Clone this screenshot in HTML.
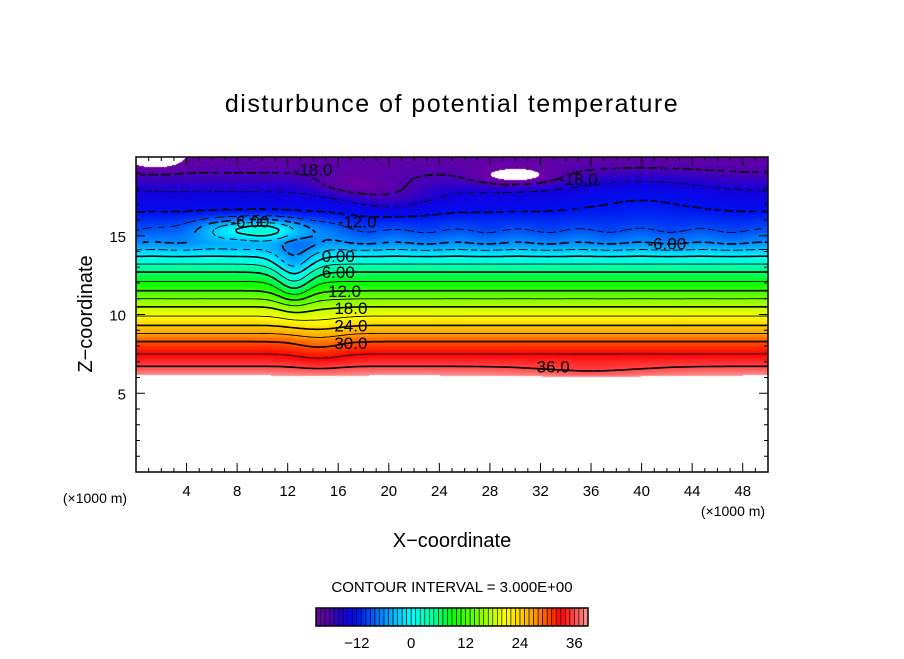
<!DOCTYPE html>
<html><head><meta charset="utf-8"><style>
body{margin:0;background:#fff;width:904px;height:654px;overflow:hidden;font-family:"Liberation Sans",sans-serif}
</style></head><body>
<svg width="904" height="654" xmlns="http://www.w3.org/2000/svg">
<text x="452" y="112" text-anchor="middle" font-size="25" letter-spacing="1.5">disturbunce of potential temperature</text>
<foreignObject x="136" y="157" width="632" height="315"><canvas id="cv" width="632" height="315" xmlns="http://www.w3.org/1999/xhtml"></canvas></foreignObject>
<g id="contours"></g>
<g id="clabels"></g>
<rect x="136" y="157" width="632" height="315" fill="none" stroke="#000" stroke-width="1.5"/>
<g id="ticks"></g>
<text x="95" y="503" text-anchor="middle" font-size="14">(×1000 m)</text>
<text x="733" y="516" text-anchor="middle" font-size="14">(×1000 m)</text>
<text x="452" y="547" text-anchor="middle" font-size="20">X−coordinate</text>
<text transform="translate(92,314) rotate(-90)" text-anchor="middle" font-size="20">Z−coordinate</text>
<text x="452" y="592" text-anchor="middle" font-size="15">CONTOUR INTERVAL = 3.000E+00</text>
<g id="cbar"></g>
</svg>
<script>
// profile of the field vs height (z in km, value)
const profZ=[0,6.0,6.2,6.7,7.5,8.3,8.8,9.3,9.9,10.5,11.0,11.5,12.1,12.7,13.2,13.7,14.1,14.5,15.3,16.5,17.8,19.0,20];
const profV=[45,41,38.5,36,33,30,27,24,21,18,15,12,9,6,3,0,-3,-6,-9,-12,-15,-18,-20];
// localized anomalies
const bumpX=[9.5,12.5,12.5,14.5,30,1.5,20,40,36,17];
const bumpZ=[15.4,12.0,13.5,8.5,18.8,19.8,17.5,17.8,6.3,18.3];
const bumpA=[11,-5,-4,-1.5,-5,-4,-3,2,-1.5,-3];
const bumpSx=[3,1.0,1.3,1.5,2.2,1.5,2.5,4,4,2];
const bumpSz=[0.5,1.2,0.8,1.5,0.4,0.4,0.8,1,0.4,0.5];
const xTicks=[4,8,12,16,20,24,28,32,36,40,44,48];
const zTicks=[5,10,15];
const cbTicks=[-12,0,12,24,36];
const labels=[[9,15.9,"-6.00"],[17.5,15.9,"-12.0"],[14,19.2,"-18.0"],[35,18.6,"-18.0"],[42,14.5,"-6.00"],[16,13.7,"0.00"],[16,12.7,"6.00"],[16.5,11.5,"12.0"],[17,10.4,"18.0"],[17,9.3,"24.0"],[17,8.2,"30.0"],[33,6.7,"36.0"]];
const X0=136,Y0=472,W=632,H=315;
const sx=x=>X0+x/50*W, sz=z=>Y0-z/20*H;
function prof(z){for(let i=1;i<profZ.length;i++){if(z<=profZ[i]){const t=(z-profZ[i-1])/(profZ[i]-profZ[i-1]);return profV[i-1]+t*(profV[i]-profV[i-1]);}}return profV[profV.length-1];}
function f(x,z){let v=prof(z);for(let i=0;i<bumpX.length;i++){const dx=(x-bumpX[i])/bumpSx[i],dz=(z-bumpZ[i])/bumpSz[i];v+=bumpA[i]*Math.exp(-0.5*(dx*dx+dz*dz));}v+=0.4*Math.sin(x*1.3)*Math.exp(-Math.pow((z-15),2));return v;}
const cs=[[-21,112,0,160],[-18,80,0,176],[-15,20,0,220],[-12,0,16,240],[-6,0,144,255],[0,0,255,255],[6,0,255,128],[9,0,255,0],[18,192,255,0],[21,255,255,0],[27,255,160,0],[33,255,0,0],[39,255,150,150]];
function col(v){if(v<-21||v>39)return null;for(let i=1;i<cs.length;i++){if(v<=cs[i][0]){const a=cs[i-1],b=cs[i],t=(v-a[0])/(b[0]-a[0]);return [a[1]+t*(b[1]-a[1]),a[2]+t*(b[2]-a[2]),a[3]+t*(b[3]-a[3])];}}return null;}
const ctx=document.getElementById('cv').getContext('2d');
const img=ctx.createImageData(W,H);
for(let py=0;py<H;py++)for(let px=0;px<W;px++){const x=px/W*50,z=(H-py)/H*20;const c=col(f(x,z));const k=(py*W+px)*4;if(c){img.data[k]=c[0];img.data[k+1]=c[1];img.data[k+2]=c[2];}else{img.data[k]=img.data[k+1]=img.data[k+2]=255;}img.data[k+3]=255;}
ctx.putImageData(img,0,0);
const NS="http://www.w3.org/2000/svg";
// marching squares
const NX=200,NZ=100,g=[];
for(let j=0;j<=NZ;j++){g.push([]);for(let i=0;i<=NX;i++)g[j].push(f(i/NX*50,j/NZ*20));}
const cg=document.getElementById('contours');
for(let L=-18;L<=36;L+=3){let d="";
for(let j=0;j<NZ;j++)for(let i=0;i<NX;i++){const c=[[i,j],[i+1,j],[i+1,j+1],[i,j+1]];const v=c.map(p=>g[p[1]][p[0]]);const pts=[];
for(let e=0;e<4;e++){const a=v[e],b=v[(e+1)%4];if((a<L)!==(b<L)){const t=(L-a)/(b-a);const pa=c[e],pb=c[(e+1)%4];pts.push([pa[0]+t*(pb[0]-pa[0]),pa[1]+t*(pb[1]-pa[1])]);}}
for(let k=0;k+1<pts.length;k+=2){const p=pts[k],q=pts[k+1];const ax=sx(p[0]/NX*50),ay=sz(p[1]/NZ*20),bx=sx(q[0]/NX*50),by=sz(q[1]/NZ*20);
if(L<0&&Math.floor((ax+bx+Math.abs(ay+by))/2/4)%3===2)continue;
d+=`M${ax.toFixed(1)} ${ay.toFixed(1)}L${bx.toFixed(1)} ${by.toFixed(1)}`;}}
const p=document.createElementNS(NS,'path');p.setAttribute('d',d);p.setAttribute('fill','none');p.setAttribute('stroke','#000');p.setAttribute('stroke-width',L%6===0?1.6:0.9);


cg.appendChild(p);}
const lg=document.getElementById('clabels');
labels.forEach(l=>{const t=document.createElementNS(NS,'text');t.setAttribute('x',sx(l[0]));t.setAttribute('y',sz(l[1])+6);t.setAttribute('font-size','17');t.setAttribute('text-anchor','middle');t.textContent=l[2];


lg.appendChild(t);});
const tg=document.getElementById('ticks');let td="";
for(let x=1;x<50;x++){const L=x%4===0?9:4;td+=`M${sx(x)} ${Y0}v${-L}M${sx(x)} ${Y0-H}v${L}`;}
for(let z=1;z<20;z++){const L=z%5===0?9:4;td+=`M${X0} ${sz(z)}h${L}M${X0+W} ${sz(z)}h${-L}`;}
const tp=document.createElementNS(NS,'path');tp.setAttribute('d',td);tp.setAttribute('stroke','#000');tp.setAttribute('stroke-width','1');tg.appendChild(tp);
xTicks.forEach(x=>{const t=document.createElementNS(NS,'text');t.setAttribute('x',sx(x));t.setAttribute('y',Y0+24);t.setAttribute('text-anchor','middle');t.setAttribute('font-size','15');t.textContent=x;


tg.appendChild(t);});
zTicks.forEach(z=>{const t=document.createElementNS(NS,'text');t.setAttribute('x',X0-10);t.setAttribute('y',sz(z)+6);t.setAttribute('text-anchor','end');t.setAttribute('font-size','15');t.textContent=z;


tg.appendChild(t);});
// colorbar
const cb=document.getElementById('cbar');const CX=316,CW=272,CY=608,CH=18,cmin=-21,cmax=39;const cx=v=>CX+(v-cmin)/(cmax-cmin)*CW;
for(let v=cmin;v<cmax;v++){const c=col(v+0.5);const r=document.createElementNS(NS,'rect');r.setAttribute('x',cx(v));r.setAttribute('y',CY);r.setAttribute('width',cx(v+1)-cx(v));r.setAttribute('height',CH);r.setAttribute('fill',`rgb(${c.map(Math.round).join(',')})`);r.setAttribute('stroke','#000');r.setAttribute('stroke-width','0.6');


cb.appendChild(r);}
const fr=document.createElementNS(NS,'rect');fr.setAttribute('x',CX);fr.setAttribute('y',CY);fr.setAttribute('width',CW);fr.setAttribute('height',CH);fr.setAttribute('fill','none');fr.setAttribute('stroke','#000');fr.setAttribute('stroke-width','1.5');cb.appendChild(fr);
cbTicks.forEach(v=>{const t=document.createElementNS(NS,'text');t.setAttribute('x',cx(v));t.setAttribute('y',CY+40);t.setAttribute('text-anchor','middle');t.setAttribute('font-size','15');t.textContent=v<0?'−'+(-v):v;


cb.appendChild(t);});
</script>
</body></html>
